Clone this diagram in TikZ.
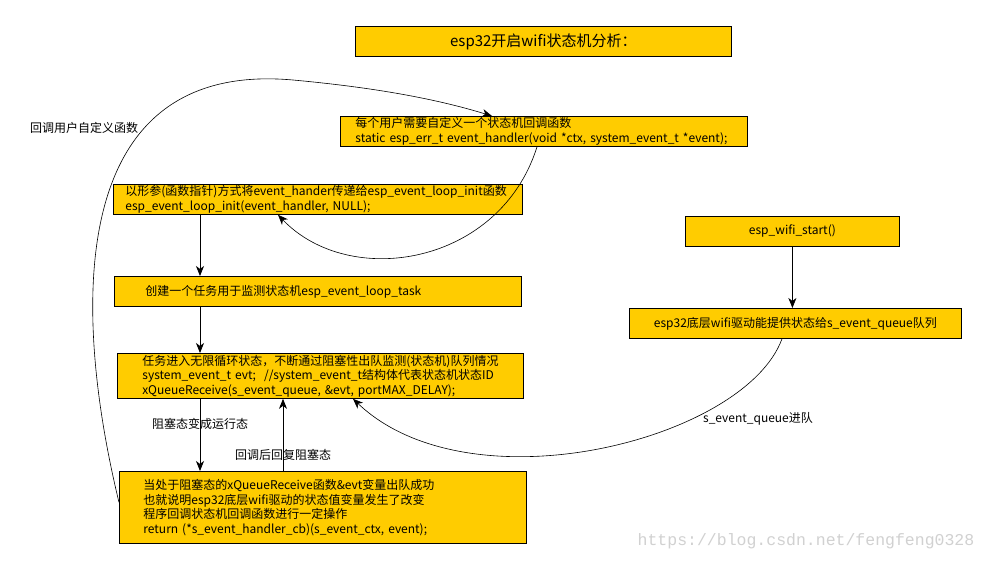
\documentclass[tikz,border=0pt]{standalone}
\usepackage{fontspec}
\setmainfont{Noto Sans CJK SC}
\newfontfamily\wmfont{Liberation Mono}
\usetikzlibrary{arrows.meta}
\definecolor{boxfill}{HTML}{FFCC00}
\begin{document}
\begin{tikzpicture}[x=1pt,y=-1pt,
  box/.style={draw, fill=boxfill, line width=0.8pt, anchor=north west, inner ysep=0pt,
    font=\fontsize{12}{14.5}\selectfont},
  lbox/.style n args={4}{box, minimum width=#1pt, minimum height=#2pt, text width=#3pt,
    inner xsep=#4pt, align=left},
  cbox/.style n args={2}{box, minimum width=#1pt, minimum height=#2pt, align=center},
  lbl/.style={font=\fontsize{12}{14}\selectfont, inner sep=0pt},
  arr/.style={line width=0.8pt, -{Stealth[length=10pt,width=8pt,inset=3pt]}},
  con/.style={line width=0.6pt, -{Stealth[length=10pt,width=8pt,inset=3pt]}}]
\useasboundingbox (0,0) rectangle (987,560);
\fill[white] (0,0) rectangle (987,560);

\node[cbox={376}{30}, font=\fontsize{15}{18}\selectfont] (title) at (355,26) {esp32开启wifi状态机分析：};

\node[lbox={407}{30}{377}{15}] (b1) at (340,116)
  {\mbox{每个用户需要自定义一个状态机回调函数}\\\mbox{static esp\_err\_t event\_handler(void *ctx, system\_event\_t *event);}};

\node[lbox={409}{30}{385}{12}] (b2) at (113,184)
  {\mbox{以形参(函数指针)方式将event\_hander传递给esp\_event\_loop\_init函数}\\\mbox{esp\_event\_loop\_init(event\_handler, NULL);}};

\node[lbox={407}{30}{345}{31}] (b3) at (114,276)
  {\mbox{创建一个任务用于监测状态机esp\_event\_loop\_task}};

\node[lbox={406}{45}{356}{25}] (b4) at (117,353)
  {\mbox{任务进入无限循环状态，不断通过阻塞性出队监测(状态机)队列情况}\\\mbox{system\_event\_t evt;\ \ //system\_event\_t结构体代表状态机状态ID}\\\mbox{xQueueReceive(s\_event\_queue, \&evt, portMAX\_DELAY);}};

\node[lbox={407}{72}{359}{24}] (b5) at (119,471)
  {\mbox{当处于阻塞态的xQueueReceive函数\&evt变量出队成功}\\\mbox{也就说明esp32底层wifi驱动的状态值变量发生了改变}\\\mbox{程序回调状态机回调函数进行一定操作}\\\mbox{return (*s\_event\_handler\_cb)(s\_event\_ctx, event);}};

\node[cbox={214}{30}] (ws) at (685,216) {esp\_wifi\_start()};
\node[cbox={332}{30}] (eb) at (629,308) {esp32底层wifi驱动能提供状态给s\_event\_queue队列};

\node[lbl] (l1) at (84,128) {回调用户自定义函数};
\node[lbl] (l2) at (200,424) {阻塞态变成运行态};
\node[lbl] (l3) at (283,455) {回调后回复阻塞态};
\node[lbl] (l4) at (758,419) {s\_event\_queue进队};
\node[inner sep=0pt, text=black!18, font=\wmfont\fontsize{16.5}{18}\selectfont] (wm) at (806,541) {https://blog.csdn.net/fengfeng0328};

\coordinate (cA) at (200,0);
\coordinate (cB) at (283,0);
\coordinate (cC) at (537,0);
\coordinate (cD) at (278,0);
\coordinate (cE) at (782,0);
\coordinate (cF) at (353,0);
\coordinate (cG) at (492,0);
\coordinate (top) at (293,80);

\draw[arr] (b2.south -| cA) -- (b3.north -| cA);
\draw[arr] (b3.south -| cA) -- (b4.north -| cA);
\draw[arr] (b4.south -| cA) -- (b5.north -| cA);
\draw[arr] (b5.north -| cB) -- (b4.south -| cB);
\draw[arr] (ws.south) -- (eb.north -| ws.south);
\draw[con] (eb.south -| cE) .. controls (745,440) and (470,510) .. (b4.south -| cF);
\draw[con] (b1.south -| cC) .. controls (500,265) and (350,290) .. (b2.south -| cD);
\draw[con] ([yshift=5pt]b5.west) .. controls (70,300) and (70,60) .. (top)
  .. controls (380,88) and (440,100) .. (b1.north -| cG);
\end{tikzpicture}
\end{document}
